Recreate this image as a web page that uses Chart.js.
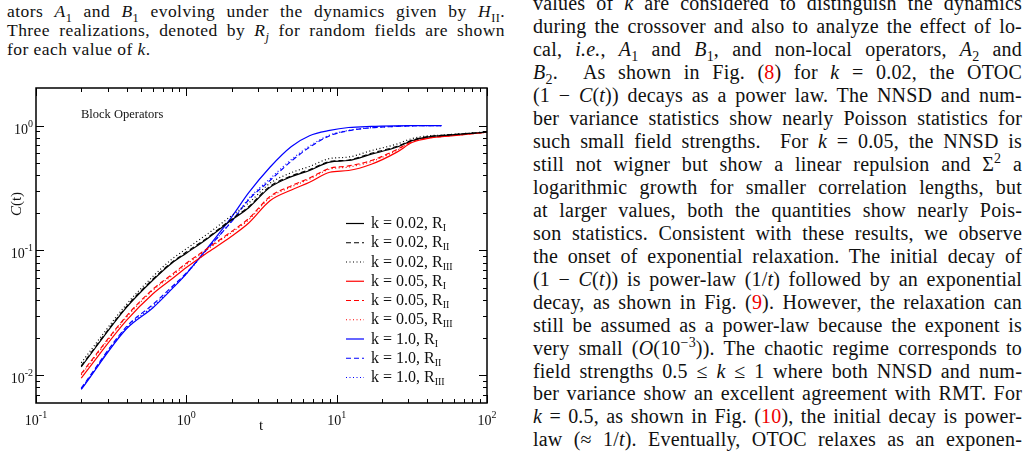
<!DOCTYPE html>
<html>
<head>
    <title>Block Operators OTOC</title>
    <meta charset="utf-8" />
    <script src="https://cdn.jsdelivr.net/npm/chart.js"></script>
    <style>
        body { margin: 0; background: #fff; width: 1030px; height: 458px; overflow: hidden; position: relative; font-family: "Liberation Serif", serif; color: #111; }
        #left { position: absolute; left: 7px; top: 2px; width: 498px; font-size: 17.5px; line-height: 19px; letter-spacing: 0.45px; }
        #right { position: absolute; left: 533px; top: -8px; width: 489px; font-size: 20px; line-height: 22.97px; letter-spacing: 0.2px; }
        .ln { height: 19px; text-align: justify; text-align-last: justify; overflow: visible; }
        #right .ln { height: 22.97px; }
        .ln.last { text-align-last: left; }
        sub, sup { line-height: 0; font-size: 0.7em; }
        .r { color: #e00; }
        #chart { position: absolute; left: 0; top: 80px; }
    </style>
</head>
<body>
    <div id="left">
        <div class="ln">ators <i>A</i><sub>1</sub> and <i>B</i><sub>1</sub> evolving under the dynamics given by <i>H</i><sub>II</sub>.</div>
        <div class="ln">Three realizations, denoted by <i>R<sub>j</sub></i> for random fields are shown</div>
        <div class="ln last">for each value of <i>k</i>.</div>
    </div>
    <div id="right">
        <div class="ln">values of <i>k</i> are considered to distinguish the dynamics</div>
        <div class="ln">during the crossover and also to analyze the effect of lo-</div>
        <div class="ln">cal, <i>i.e.</i>, <i>A</i><sub>1</sub> and <i>B</i><sub>1</sub>, and non-local operators, <i>A</i><sub>2</sub> and</div>
        <div class="ln"><i>B</i><sub>2</sub>. &nbsp;As shown in Fig. (<span class="r">8</span>) for <i>k</i> = 0.02, the OTOC</div>
        <div class="ln">(1 &minus; <i>C</i>(<i>t</i>)) decays as a power law. The NNSD and num-</div>
        <div class="ln">ber variance statistics show nearly Poisson statistics for</div>
        <div class="ln">such small field strengths. &nbsp;For <i>k</i> = 0.05, the NNSD is</div>
        <div class="ln">still not wigner but show a linear repulsion and &Sigma;<sup>2</sup> a</div>
        <div class="ln">logarithmic growth for smaller correlation lengths, but</div>
        <div class="ln">at larger values, both the quantities show nearly Pois-</div>
        <div class="ln">son statistics. Consistent with these results, we observe</div>
        <div class="ln">the onset of exponential relaxation. The initial decay of</div>
        <div class="ln">(1 &minus; <i>C</i>(<i>t</i>)) is power-law (1/<i>t</i>) followed by an exponential</div>
        <div class="ln">decay, as shown in Fig. (<span class="r">9</span>). However, the relaxation can</div>
        <div class="ln">still be assumed as a power-law because the exponent is</div>
        <div class="ln">very small (<i>O</i>(10<sup>&minus;3</sup>)). The chaotic regime corresponds to</div>
        <div class="ln">field strengths 0.5 &le; <i>k</i> &le; 1 where both NNSD and num-</div>
        <div class="ln">ber variance show an excellent agreement with RMT. For</div>
        <div class="ln"><i>k</i> = 0.5, as shown in Fig. (<span class="r">10</span>), the initial decay is power-</div>
        <div class="ln">law (&asymp; 1/<i>t</i>). Eventually, OTOC relaxes as an exponen-</div>
    </div>

    <canvas id="chart" width="510" height="378"></canvas>

    <script>
        // time axis (t) shared by all series; k = 1.0 curves stop at t = 50
        var tValues = [0.2, 0.4, 0.6, 0.8, 1.0, 1.4, 2.0, 2.6, 3.6, 5.0, 6.6, 9.0, 12, 17, 25, 32, 42, 50, 70, 100];

        // k = 0.02
        var k002_RI   = [0.0117, 0.035, 0.058, 0.079, 0.095, 0.126, 0.175, 0.22, 0.32, 0.39, 0.437, 0.51, 0.525, 0.59, 0.67, 0.76, 0.815, 0.83, 0.858, 0.885];
        var k002_RII  = [0.0119, 0.0355, 0.059, 0.080, 0.097, 0.128, 0.178, 0.224, 0.326, 0.395, 0.443, 0.515, 0.53, 0.60, 0.68, 0.765, 0.82, 0.835, 0.86, 0.887];
        var k002_RIII = [0.0126, 0.037, 0.062, 0.085, 0.103, 0.137, 0.19, 0.24, 0.345, 0.42, 0.47, 0.545, 0.56, 0.63, 0.71, 0.79, 0.83, 0.84, 0.865, 0.89];
        // k = 0.05
        var k005_RI   = [0.0095, 0.0275, 0.045, 0.059, 0.073, 0.097, 0.13, 0.166, 0.25, 0.305, 0.352, 0.423, 0.437, 0.49, 0.61, 0.735, 0.797, 0.815, 0.847, 0.885];
        var k005_RII  = [0.0103, 0.0298, 0.049, 0.064, 0.079, 0.105, 0.142, 0.18, 0.27, 0.33, 0.38, 0.455, 0.475, 0.525, 0.64, 0.75, 0.805, 0.82, 0.85, 0.885];
        var k005_RIII = [0.0101, 0.0292, 0.048, 0.0625, 0.077, 0.103, 0.139, 0.176, 0.265, 0.323, 0.373, 0.448, 0.465, 0.515, 0.63, 0.745, 0.80, 0.818, 0.848, 0.884];
        // k = 1.0
        var k10_RI    = [0.0077, 0.0236, 0.0348, 0.049, 0.065, 0.107, 0.185, 0.29, 0.464, 0.68, 0.83, 0.915, 0.965, 0.985, 0.995, 0.998, 1.0, 1.0];
        var k10_RII   = [0.0079, 0.0245, 0.037, 0.051, 0.066, 0.105, 0.17, 0.255, 0.363, 0.52, 0.67, 0.83, 0.91, 0.96, 0.985, 0.995, 1.0, 1.0];
        var k10_RIII  = [0.0078, 0.024, 0.0358, 0.0495, 0.065, 0.104, 0.172, 0.26, 0.375, 0.535, 0.685, 0.84, 0.915, 0.962, 0.987, 0.996, 1.0, 1.0];

        var kLabels = ['0.02', '0.05', '1.0'];
        var realizations = ['I', 'II', 'III'];
        var xDecades = [-1, 0, 1, 2];
        var yDecades = [-2, -1, 0];

        var colors = ['#000000', '#ff0000', '#0000ff'];
        var dashes = [[], [5, 3], [1, 2.5]];
        var allSeries = [k002_RI, k002_RII, k002_RIII, k005_RI, k005_RII, k005_RIII, k10_RI, k10_RII, k10_RIII];

        function toPoints(vals) {
            return vals.map(function (v, i) { return { x: tValues[i], y: v }; });
        }

        var datasets = allSeries.map(function (vals, i) {
            var k = Math.floor(i / 3), r = i % 3;
            return {
                label: 'k = ' + kLabels[k] + ', R' + realizations[r],
                data: toPoints(vals),
                borderColor: colors[k],
                borderDash: dashes[r],
                borderWidth: 1.2,
                pointRadius: 0,
                cubicInterpolationMode: 'monotone',
                fill: false
            };
        });

        var serif = '"Liberation Serif", "Times New Roman", serif';

        // "10" with a raised exponent
        function drawPow(ctx, exp, x, y, align) {
            ctx.font = '14px ' + serif;
            var wb = ctx.measureText('10').width;
            ctx.font = '10px ' + serif;
            var we = ctx.measureText(exp).width;
            var sx = align === 'center' ? x - (wb + we) / 2 : (align === 'right' ? x - wb - we : x);
            ctx.textAlign = 'left';
            ctx.textBaseline = 'alphabetic';
            ctx.font = '14px ' + serif;
            ctx.fillText('10', sx, y);
            ctx.font = '10px ' + serif;
            ctx.fillText(exp, sx + wb, y - 7);
        }

        // frame, inward ticks on all four sides, tick labels, titles and legend
        var gracePlot = {
            id: 'gracePlot',
            afterDatasetsDraw: function (chart) {
                var ctx = chart.ctx, a = chart.chartArea;
                var xs = chart.scales.x, ys = chart.scales.y;
                ctx.save();
                ctx.strokeStyle = '#000';
                ctx.fillStyle = '#111';
                ctx.lineWidth = 1;

                // x ticks
                xDecades.forEach(function (d) {
                    for (var m = 1; m <= 9; m++) {
                        var v = m * Math.pow(10, d);
                        if (v < xs.min || v > xs.max) continue;
                        var px = Math.round(xs.getPixelForValue(v)) + 0.5;
                        var len = m === 1 ? 8 : 4;
                        ctx.beginPath();
                        ctx.moveTo(px, a.bottom); ctx.lineTo(px, a.bottom - len);
                        ctx.moveTo(px, a.top); ctx.lineTo(px, a.top + len);
                        ctx.stroke();
                    }
                    drawPow(ctx, d < 0 ? '-' + (-d) : String(d), xs.getPixelForValue(Math.pow(10, d)), a.bottom + 22, 'center');
                });

                // y ticks
                [-3, -2, -1, 0].forEach(function (d) {
                    for (var m = 1; m <= 9; m++) {
                        var v = m * Math.pow(10, d);
                        if (v <= ys.min || v >= ys.max) continue;
                        var py = Math.round(ys.getPixelForValue(v)) + 0.5;
                        var len = m === 1 ? 8 : 4;
                        ctx.beginPath();
                        ctx.moveTo(a.left, py); ctx.lineTo(a.left + len, py);
                        ctx.moveTo(a.right, py); ctx.lineTo(a.right - len, py);
                        ctx.stroke();
                    }
                });
                yDecades.forEach(function (d) {
                    drawPow(ctx, d < 0 ? '-' + (-d) : String(d), a.left - 3, ys.getPixelForValue(Math.pow(10, d)) + 8, 'right');
                });

                // frame
                ctx.lineWidth = 1.5;
                ctx.strokeRect(a.left, a.top, a.right - a.left, a.bottom - a.top);

                // axis titles
                ctx.font = '15px ' + serif;
                ctx.textAlign = 'center';
                ctx.textBaseline = 'alphabetic';
                ctx.fillText('t', 261, a.bottom + 27);
                ctx.save();
                ctx.translate(21, 124);
                ctx.rotate(-Math.PI / 2);
                ctx.font = 'italic 15px ' + serif;
                var wc = ctx.measureText('C').width;
                ctx.font = '15px ' + serif;
                var wt = ctx.measureText('(t)').width;
                ctx.textAlign = 'left';
                ctx.font = 'italic 15px ' + serif;
                ctx.fillText('C', -(wc + wt) / 2, 0);
                ctx.font = '15px ' + serif;
                ctx.fillText('(t)', -(wc + wt) / 2 + wc, 0);
                ctx.restore();

                // in-plot title
                ctx.font = '12.5px ' + serif;
                ctx.textAlign = 'left';
                ctx.textBaseline = 'middle';
                ctx.fillText('Block Operators', 81, 35);

                // legend
                chart.data.datasets.forEach(function (ds, i) {
                    var k = Math.floor(i / 3), r = i % 3;
                    var y = 143 + i * 19.25;
                    ctx.strokeStyle = ds.borderColor;
                    ctx.lineWidth = 1.2;
                    ctx.setLineDash(ds.borderDash);
                    ctx.beginPath();
                    ctx.moveTo(346, y + 0.5); ctx.lineTo(364, y + 0.5);
                    ctx.stroke();
                    ctx.setLineDash([]);
                    ctx.textAlign = 'left';
                    ctx.textBaseline = 'alphabetic';
                    ctx.font = '16px ' + serif;
                    var txt = 'k = ' + kLabels[k] + ', R';
                    ctx.fillText(txt, 371, y + 5);
                    var w = ctx.measureText(txt).width;
                    ctx.font = '10px ' + serif;
                    ctx.fillText(realizations[r], 371 + w, y + 8);
                });
                ctx.restore();
            }
        };

        var ctx = document.getElementById('chart').getContext('2d');
        var chart = new Chart(ctx, {
            type: 'line',
            data: { datasets: datasets },
            options: {
                responsive: false,
                animation: false,
                devicePixelRatio: 1,
                layout: { padding: { left: 36, top: 8, right: 23, bottom: 55 } },
                plugins: { legend: { display: false }, tooltip: { enabled: false } },
                scales: {
                    x: { type: 'logarithmic', min: 0.1, max: 100, display: false },
                    y: { type: 'logarithmic', min: 0.006, max: 2, display: false }
                }
            },
            plugins: [gracePlot]
        });
    </script>
</body>
</html>
